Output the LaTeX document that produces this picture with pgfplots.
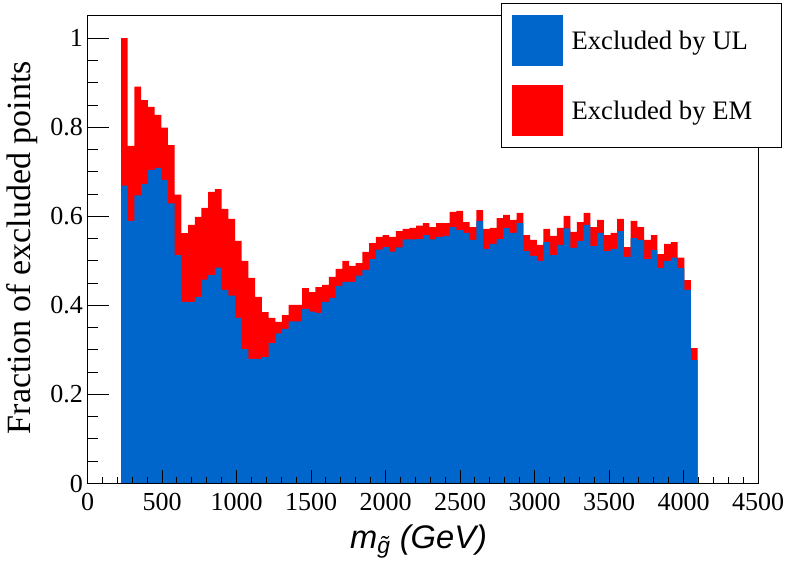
\documentclass[border=0pt]{standalone}
\usepackage{fontspec}
\setmainfont{Liberation Serif}
\newfontfamily\helv{Liberation Sans}
\usepackage{pgfplots}
\usepackage{pgfplotstable}
\pgfplotsset{compat=1.18}

\definecolor{ulblue}{RGB}{0,102,204}
\definecolor{emred}{RGB}{255,0,0}

% bin left edges (width 45 GeV), total fraction and fraction excluded by UL
\pgfplotstableread{
x    tot   ul
225  1.000 0.669
270  0.758 0.590
315  0.891 0.647
360  0.861 0.673
405  0.846 0.704
450  0.828 0.709
495  0.799 0.682
540  0.760 0.629
585  0.649 0.513
630  0.562 0.408
675  0.581 0.408
720  0.599 0.419
765  0.619 0.458
810  0.655 0.468
855  0.661 0.485
900  0.617 0.435
945  0.594 0.422
990  0.545 0.372
1035 0.500 0.302
1080 0.462 0.280
1125 0.419 0.280
1170 0.385 0.284
1215 0.372 0.315
1260 0.363 0.337
1305 0.378 0.347
1350 0.401 0.364
1395 0.401 0.364
1440 0.439 0.392
1485 0.430 0.386
1530 0.441 0.383
1575 0.446 0.408
1620 0.464 0.417
1665 0.482 0.444
1710 0.500 0.453
1755 0.489 0.453
1800 0.495 0.467
1845 0.520 0.480
1890 0.540 0.504
1935 0.554 0.525
1980 0.558 0.531
2025 0.554 0.521
2070 0.567 0.530
2115 0.572 0.548
2160 0.574 0.548
2205 0.579 0.549
2250 0.585 0.558
2295 0.576 0.548
2340 0.585 0.554
2385 0.585 0.556
2430 0.610 0.576
2475 0.612 0.569
2520 0.587 0.563
2565 0.576 0.547
2610 0.614 0.590
2655 0.572 0.527
2700 0.574 0.538
2745 0.596 0.549
2790 0.603 0.574
2835 0.592 0.563
2880 0.608 0.585
2925 0.558 0.522
2970 0.547 0.511
3015 0.536 0.500
3060 0.572 0.542
3105 0.556 0.513
3150 0.574 0.536
3195 0.601 0.573
3240 0.565 0.529
3285 0.587 0.545
3330 0.608 0.581
3375 0.576 0.533
3420 0.592 0.563
3465 0.558 0.522
3510 0.563 0.527
3555 0.594 0.567
3600 0.531 0.509
3645 0.590 0.551
3690 0.576 0.547
3735 0.547 0.504
3780 0.558 0.524
3825 0.515 0.484
3870 0.538 0.500
3915 0.542 0.507
3960 0.507 0.484
4005 0.457 0.435
4050 0.304 0.277
4095 0.304 0.277
}\fracdata

\pgfplotsset{
  frame/.style={
    at={(0,0)}, anchor=south west,
    scale only axis, width=502.9pt, height=351pt,
    xmin=0, xmax=4500, ymin=0, ymax=1.051,
    axis line style={line width=0.75pt},
    tick align=inside,
    every tick/.append style={line width=0.75pt, black},
    every minor tick/.append style={line width=0.75pt, black},
    /pgf/number format/assume math mode=true,
    /pgf/number format/1000 sep={},
  },
}

\begin{document}
\begin{tikzpicture}
% y axis ticks and title (longer ticks than on x)
\begin{axis}[frame,
    xtick=\empty,
    ytick={0,0.2,0.4,0.6,0.8,1},
    minor y tick num=3,
    ytick pos=left,
    major tick length=15.75pt, minor tick length=7.5pt,
    yticklabel style={font=\fontsize{19.5}{20}\selectfont},
    ylabel={Fraction of excluded points},
    ylabel style={at={([xshift=-42.4pt]axis description cs:0,0.504)},
      anchor=base, font=\fontsize{25.5}{27}\selectfont},
]
\end{axis}
% histograms, x axis and legend
\begin{axis}[frame,
    axis on top,
    ytick=\empty,
    xtick={0,500,...,4500},
    minor x tick num=4,
    xtick pos=left,
    scaled x ticks=false,
    major tick length=10.5pt, minor tick length=5.25pt,
    xticklabel style={font=\fontsize{19.5}{20}\selectfont, yshift=-3.5pt},
    xlabel={{\helv\itshape m\textsubscript{\~g} (GeV)}},
    xlabel style={at={(axis description cs:0.4937,0)}, anchor=base,
      yshift=-48.4pt, font=\fontsize{24.5}{26}\selectfont},
    legend style={at={(1.0358,1.0267)}, anchor=north east,
      draw=black, line width=0.75pt, fill=white,
      inner xsep=7.5pt, inner ysep=8.4pt, row sep=14.5pt,
      font=\fontsize{20}{24}\selectfont,
      nodes={inner sep=0pt, text depth=0pt}},
    legend cell align=left,
]
\addplot[const plot, fill=emred, draw=none, forget plot]
  table[x=x, y=tot] {\fracdata} \closedcycle;
\addplot[const plot, fill=ulblue, draw=none, forget plot]
  table[x=x, y=ul] {\fracdata} \closedcycle;

\addlegendimage{legend image code/.code={
  \fill[ulblue] (0pt,-18.75pt) rectangle (37.5pt,18.75pt);
  \path (44.25pt,0pt);}}
\addlegendentry{\makebox[150pt][l]{Excluded by UL}}
\addlegendimage{legend image code/.code={
  \fill[emred] (0pt,-18.75pt) rectangle (37.5pt,18.75pt);
  \path (44.25pt,0pt);}}
\addlegendentry{\makebox[150pt][l]{Excluded by EM}}
\end{axis}
\pgfresetboundingbox
\path[use as bounding box] (-65.625pt,-63.375pt) rectangle (532.875pt,362.625pt);
\end{tikzpicture}
\end{document}
